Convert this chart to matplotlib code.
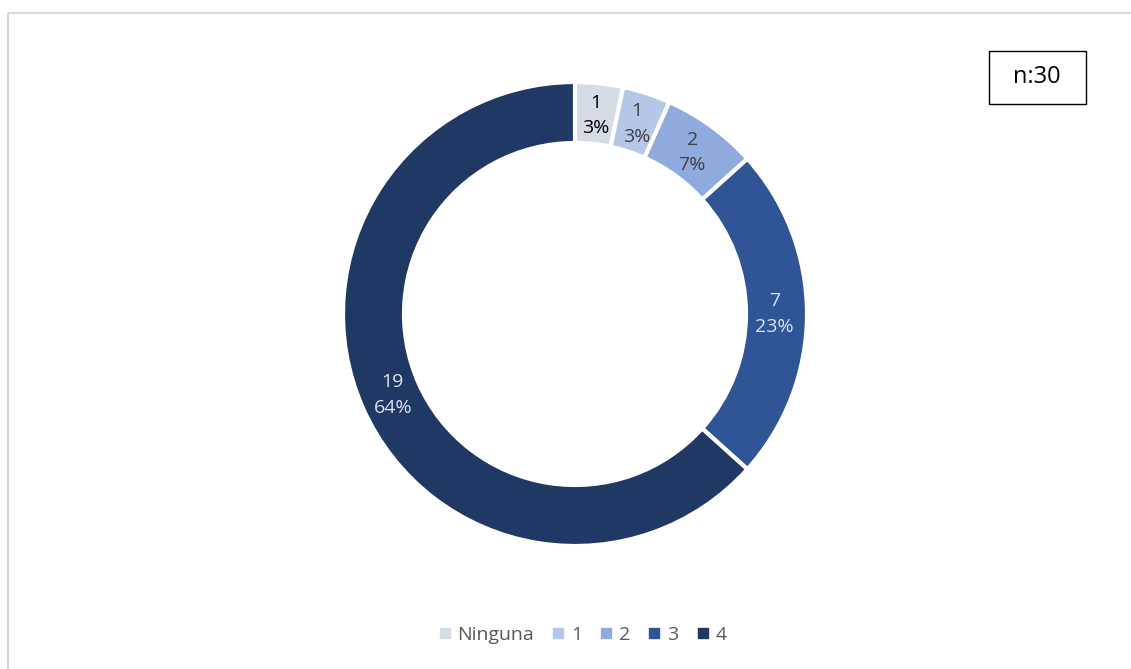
import matplotlib.pyplot as plt
import numpy as np
from matplotlib.lines import Line2D
from matplotlib.patches import Rectangle

categories = ['Ninguna', '1', '2', '3', '4']
counts = [1, 1, 2, 7, 19]
pct_labels = ['3%', '3%', '7%', '23%', '64%']
colors = ['#D6DCE5', '#B4C7E7', '#8FAADC', '#2F5597', '#203864']
text_colors = ['#000000', '#404040', '#404040', '#DCE4F2', '#DCE4F2']
n_total = 30

W, H = 1131, 669
fig = plt.figure(figsize=(W / 100, H / 100), dpi=100)
ax = fig.add_axes([0, 0, 1, 1])

# chart area border (top and left only)
ax.plot([7.5, W], [H - 13, H - 13], color='#D9D9D9', lw=1.5, solid_capstyle='butt')
ax.plot([7.5, 7.5], [0, H - 13], color='#D9D9D9', lw=1.5, solid_capstyle='butt')

cx, cy, r = 575, H - 314, 232
width = 61
wedges, _ = ax.pie(counts, colors=colors, startangle=90, counterclock=False,
                   center=(cx, cy), radius=r, frame=True,
                   wedgeprops=dict(width=width, edgecolor='white', linewidth=3))
ax.set_xlim(0, W)
ax.set_ylim(0, H)
ax.set_aspect('equal')
ax.axis('off')

lab_r = r - width / 2 - 2
for w, c, p, tc in zip(wedges, counts, pct_labels, text_colors):
    ang = np.deg2rad((w.theta1 + w.theta2) / 2)
    x = cx + lab_r * np.cos(ang)
    y = cy + lab_r * np.sin(ang)
    ax.text(x, y, f'{c}\n{p}', ha='center', va='center', fontsize=14,
            color=tc, family='Open Sans', linespacing=1.55)

# sample size box
ax.add_patch(Rectangle((988.5, H - 103.5), 97, 53, facecolor='white',
                       edgecolor='#000000', lw=1))
ax.text(1037, H - 77, f'n:{n_total}', ha='center', va='center', fontsize=17,
        family='Open Sans', color='#000000')

handles = [Line2D([0], [0], marker='s', linestyle='', markersize=7,
                  markerfacecolor=col, markeredgecolor=col) for col in colors]
leg = fig.legend(handles, categories, loc='center', bbox_to_anchor=(582 / W, 1 - 635 / H),
                 ncol=5, frameon=False, handlelength=0.7, handletextpad=0.3,
                 columnspacing=0.9, prop={'family': 'Open Sans', 'size': 14})
for t in leg.get_texts():
    t.set_color('#595959')

fig.savefig('out.png', dpi=100)
